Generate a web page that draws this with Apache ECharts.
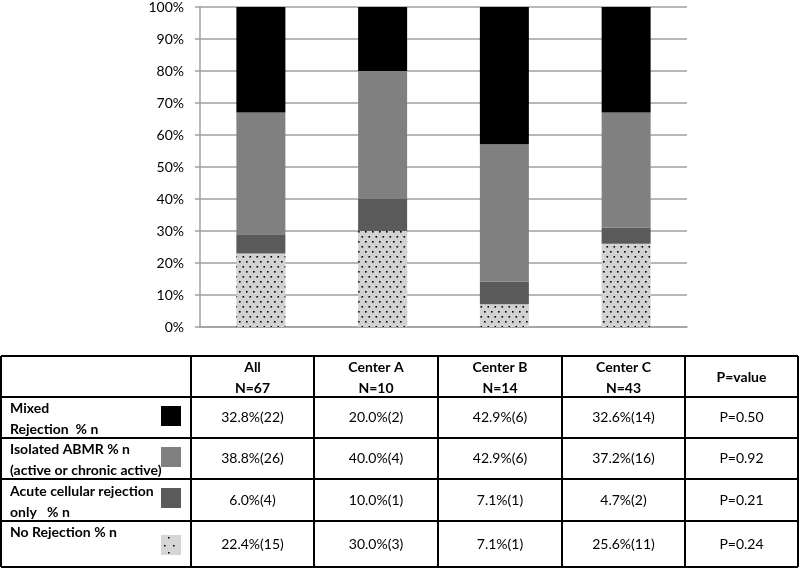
<!DOCTYPE html>
<html>
<head>
<meta charset="utf-8">
<script src="https://cdn.jsdelivr.net/npm/echarts@6/dist/echarts.min.js"></script>
<style>
html,body{margin:0;padding:0;background:#fff;}
#chart{width:800px;height:568px;}
</style>
</head>
<body>
<div id="chart"></div>
<script>
// ---- data ----
const categories = ['All', 'Center A', 'Center B', 'Center C'];
const nLabels = ['N=67', 'N=10', 'N=14', 'N=43'];
const noRejection = [23, 30, 7.1, 26];
const acuteCellular = [6, 10, 7.1, 5];
const isolatedABMR = [38, 40, 42.9, 36];
const mixedRejection = [33, 20, 42.9, 33];
const yTicks = [0, 10, 20, 30, 40, 50, 60, 70, 80, 90, 100];

const rowLabels = [
  ['Mixed', 'Rejection  % n'],
  ['Isolated ABMR % n', '(active or chronic active)'],
  ['Acute cellular rejection', 'only   % n'],
  ['No Rejection % n']
];
const tableValues = [
  ['32.8%(22)', '20.0%(2)', '42.9%(6)', '32.6%(14)'],
  ['38.8%(26)', '40.0%(4)', '42.9%(6)', '37.2%(16)'],
  ['6.0%(4)', '10.0%(1)', '7.1%(1)', '4.7%(2)'],
  ['22.4%(15)', '30.0%(3)', '7.1%(1)', '25.6%(11)']
];
const pHeader = 'P=value';
const pValues = ['P=0.50', 'P=0.92', 'P=0.21', 'P=0.24'];

// ---- styles ----
const FONT = 'Lato';
const dotCanvas = (function(){
  const c = document.createElement('canvas');
  c.width = 7; c.height = 10;
  const ctx = c.getContext('2d');
  ctx.fillStyle = '#d2d2d2'; ctx.fillRect(0, 0, 7, 10);
  ctx.fillStyle = '#000';
  ctx.fillRect(1, 1, 1.6, 1.6);
  ctx.fillRect(4.5, 6, 1.6, 1.6);
  return c;
})();
const seriesColors = [
  {image: dotCanvas, repeat: 'repeat'},
  '#5a5a5a',
  '#808080',
  '#000000'
];

// ---- table layout ----
const colX = [1, 191, 314, 438, 562, 685, 798];
const rowY = [356, 397, 438, 479, 521, 567];
const graphics = [];
colX.forEach(x => graphics.push({type:'line', shape:{x1:x, y1:rowY[0], x2:x, y2:rowY[rowY.length-1]}, style:{stroke:'#000', lineWidth:2}}));
rowY.forEach(y => graphics.push({type:'line', shape:{x1:colX[0], y1:y, x2:colX[colX.length-1], y2:y}, style:{stroke:'#000', lineWidth:2}}));
function txt(x, y, s, opts) {
  graphics.push({type:'text', x:x, y:y, style:Object.assign({text:s, fill:'#000', font:'14px ' + FONT, textAlign:'center', textVerticalAlign:'middle'}, opts || {})});
}
// header
categories.forEach((c, i) => {
  const cx = (colX[i+1] + colX[i+2]) / 2;
  txt(cx, 367, c, {font:'bold 14px ' + FONT});
  txt(cx, 388, nLabels[i], {font:'bold 14px ' + FONT});
});
txt((colX[5] + colX[6]) / 2, 377, pHeader, {font:'bold 14px ' + FONT});
// rows
const swatchFills = ['#000000', '#808080', '#5a5a5a', '#d6d6d6'];
const labelYs = [[408, 429], [449, 470], [491, 512], [532]];
for (let r = 0; r < 4; r++) {
  rowLabels[r].forEach((s, k) => txt(10, labelYs[r][k], s, {font:'bold 14px ' + FONT, textAlign:'left'}));
  const top = rowY[r+1];
  const sy = top + (r === 3 ? 14 : 9);
  graphics.push({type:'rect', shape:{x:161, y:sy, width:20, height:20}, style:{fill: swatchFills[r]}});
  if (r === 3) {
    [[7,2],[3,10],[12,10],[7,17]].forEach(p => graphics.push({type:'rect', shape:{x:161+p[0], y:sy+p[1], width:1.6, height:1.6}, style:{fill:'#000'}}));
  }
  const cy = (rowY[r+1] + rowY[r+2]) / 2;
  for (let c = 0; c < 4; c++) {
    txt((colX[c+1] + colX[c+2]) / 2, cy, tableValues[r][c]);
  }
  txt((colX[5] + colX[6]) / 2, cy, pValues[r]);
}

const chart = echarts.init(document.getElementById('chart'), null, {renderer:'canvas'});
const seriesData = [noRejection, acuteCellular, isolatedABMR, mixedRejection];
const seriesNames = ['No Rejection', 'Acute cellular rejection only', 'Isolated ABMR', 'Mixed Rejection'];
chart.setOption({
  animation: false,
  backgroundColor: '#fff',
  grid: {left: 200, right: 113, top: 6, height: 321, containLabel: false},
  xAxis: {
    type: 'category',
    data: categories,
    axisLabel: {show: false},
    axisTick: {show: false},
    axisLine: {lineStyle: {color: '#a0a0a0', width: 1.5}}
  },
  yAxis: {
    type: 'value',
    min: yTicks[0], max: yTicks[yTicks.length-1], interval: yTicks[1] - yTicks[0],
    axisLabel: {formatter: '{value}%', color: '#000', fontFamily: FONT, fontSize: 14, margin: 16},
    axisTick: {show: true, length: 5, lineStyle: {color: '#a0a0a0', width: 1.5}},
    axisLine: {show: true, lineStyle: {color: '#a0a0a0', width: 1.5}},
    splitLine: {lineStyle: {color: '#a0a0a0', width: 1.5}}
  },
  series: seriesData.map((d, i) => ({
    name: seriesNames[i],
    type: 'bar',
    stack: 'total',
    barWidth: 49,
    data: d,
    itemStyle: {color: seriesColors[i]}
  })),
  graphic: graphics
});
</script>
</body>
</html>
